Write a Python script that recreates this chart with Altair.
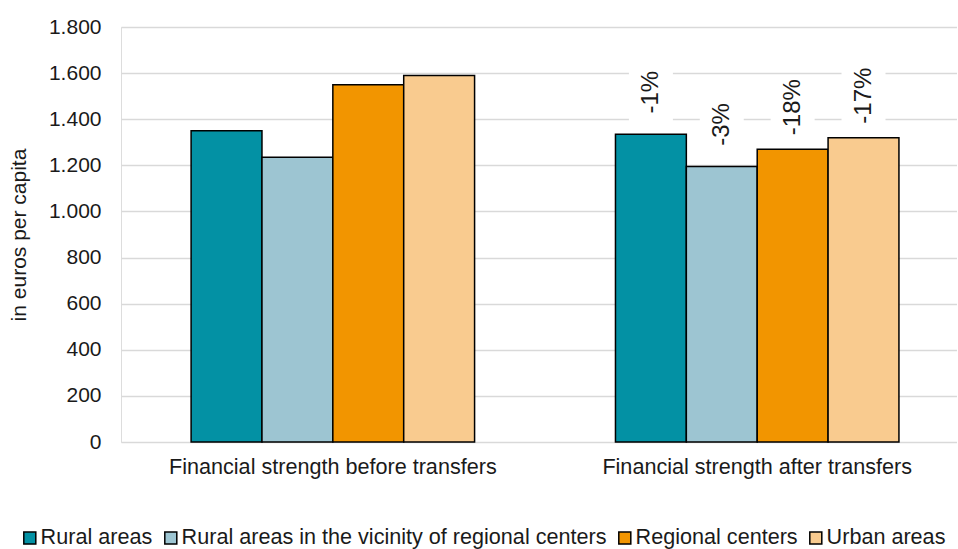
import altair as alt
import pandas as pd

# Per-capita financial strength (euros) by municipality type
groups = ["Financial strength before transfers", "Financial strength after transfers"]
categories = [
    "Rural areas",
    "Rural areas in the vicinity of regional centers",
    "Regional centers",
    "Urban areas",
]
before_values = [1350, 1235, 1550, 1590]
after_values = [1335, 1195, 1270, 1320]
change_labels = ["-1%", "-3%", "-18%", "-17%"]
colors = ["#0391A4", "#9DC5D2", "#F29500", "#F9CB8F"]
y_ticks = [0, 200, 400, 600, 800, 1000, 1200, 1400, 1600, 1800]

rows = []
for cat, v in zip(categories, before_values):
    rows.append({"group": groups[0], "category": cat, "value": v, "label": ""})
for cat, v, lab in zip(categories, after_values, change_labels):
    rows.append({"group": groups[1], "category": cat, "value": v, "label": lab})
df = pd.DataFrame(rows)

FONT = "Liberation Sans"

x_enc = alt.X(
    "group:N",
    sort=groups,
    title=None,
    scale=alt.Scale(paddingInner=0.332, paddingOuter=0.151, align=0.547),
    axis=alt.Axis(labelAngle=0, domain=False, ticks=False, labelPadding=14,
                  labelLimit=600, labelFontSize=21.6, labelFont=FONT,
                  labelColor="#1a1a1a"),
)
xoff_enc = alt.XOffset("category:N", sort=categories,
                       scale=alt.Scale(paddingInner=0, paddingOuter=0))
y_enc = alt.Y(
    "value:Q",
    title="in euros per capita",
    scale=alt.Scale(domain=[0, 1800], nice=False),
    axis=alt.Axis(values=y_ticks, domain=False, ticks=False, labelPadding=20,
                  labelExpr="replace(format(datum.value, ','), ',', '.')",
                  labelFontSize=21, labelFont=FONT, labelColor="#1a1a1a",
                  titleFontSize=21, titleFont=FONT, titleFontWeight="normal",
                  titleColor="#1a1a1a", titlePadding=19,
                  gridColor="#D9D9D9", gridWidth=1.5),
)

bars = alt.Chart(df).mark_bar(stroke="black", strokeWidth=1.5).encode(
    x=x_enc,
    xOffset=xoff_enc,
    y=y_enc,
    color=alt.Color(
        "category:N",
        sort=categories,
        scale=alt.Scale(domain=categories, range=colors),
        legend=alt.Legend(
            title=None, orient="none", legendX=-102, legendY=500,
            direction="horizontal", columns=4,
            symbolType="square", symbolSize=144,
            symbolStrokeColor="black", symbolStrokeWidth=1.5,
            labelFontSize=21.6, labelFont=FONT, labelColor="#1a1a1a",
            labelOffset=0, columnPadding=7, labelLimit=600,
        ),
    ),
)

labelled = alt.Chart(df).transform_filter("datum.label != ''")

# white backing boxes behind the change labels (interrupt the gridlines)
boxes = labelled.mark_rule(color="white", strokeWidth=44, yOffset=-10, y2Offset=-74).encode(
    x=alt.X("group:N", sort=groups),
    xOffset=alt.XOffset("category:N", sort=categories),
    y="value:Q",
    y2="value:Q",
)

texts = labelled.mark_text(
    angle=270, align="center", baseline="middle", yOffset=-42,
    fontSize=24, font=FONT, color="#1a1a1a",
).encode(
    x=alt.X("group:N", sort=groups),
    xOffset=alt.XOffset("category:N", sort=categories),
    y="value:Q",
    text="label:N",
)

chart = (
    alt.layer(bars, boxes, texts)
    .properties(width=836, height=415,
                padding={"left": 8, "top": 16, "right": 0, "bottom": 0})
    .configure_view(stroke=None)
    .configure(background="white")
)

chart.save("out.html", embed_options={"renderer": "svg", "actions": False})
